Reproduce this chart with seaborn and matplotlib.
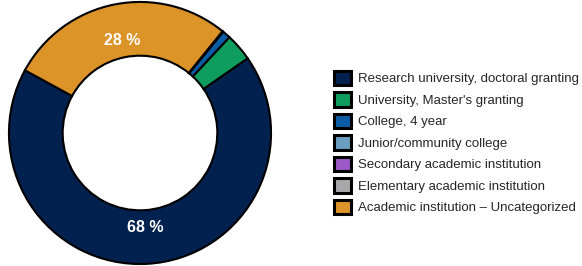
import matplotlib
matplotlib.use("Agg")
import matplotlib.pyplot as plt
import seaborn as sns

categories = [
    "Research university, doctoral granting",
    "University, Master's granting",
    "College, 4 year",
    "Junior/community college",
    "Secondary academic institution",
    "Elementary academic institution",
    "Academic institution – Uncategorized",
]
shares = [67.6, 3.4, 1.0, 0.1, 0.0, 0.0, 27.9]
colors = ["#03214f", "#0f9d5f", "#0b5ea6", "#6a9ec0", "#9b59c8", "#a8a8aa", "#dc9328"]

sns.set_theme(style="white")
plt.rcParams["font.family"] = ["Liberation Sans", "DejaVu Sans"]

fig = plt.figure(figsize=(5.82, 2.66), dpi=100)
ax = fig.add_axes([7 / 582, 0, 266 / 582, 1])


def pct_label(p):
    return f"{p:.0f} %" if p >= 5 else ""


wedges, texts, autotexts = ax.pie(
    shares,
    colors=colors,
    startangle=151.4,
    counterclock=True,
    autopct=pct_label,
    pctdistance=0.72,
    wedgeprops=dict(width=0.41, edgecolor="black", linewidth=1.5),
    textprops=dict(color="white", fontsize=11.5, fontweight="bold"),
)
ax.set_xlim(-1.015, 1.015)
ax.set_ylim(-1.015, 1.015)
ax.set_aspect("equal")

leg = fig.legend(
    wedges,
    categories,
    loc="center left",
    bbox_to_anchor=(322 / 582, 0.464),
    frameon=False,
    fontsize=9.5,
    handlelength=1.3,
    handleheight=1.3,
    handletextpad=0.55,
    labelspacing=0.52,
)
for h in leg.legend_handles:
    h.set_linewidth(2.2)

fig.savefig("out.png", dpi=100)
